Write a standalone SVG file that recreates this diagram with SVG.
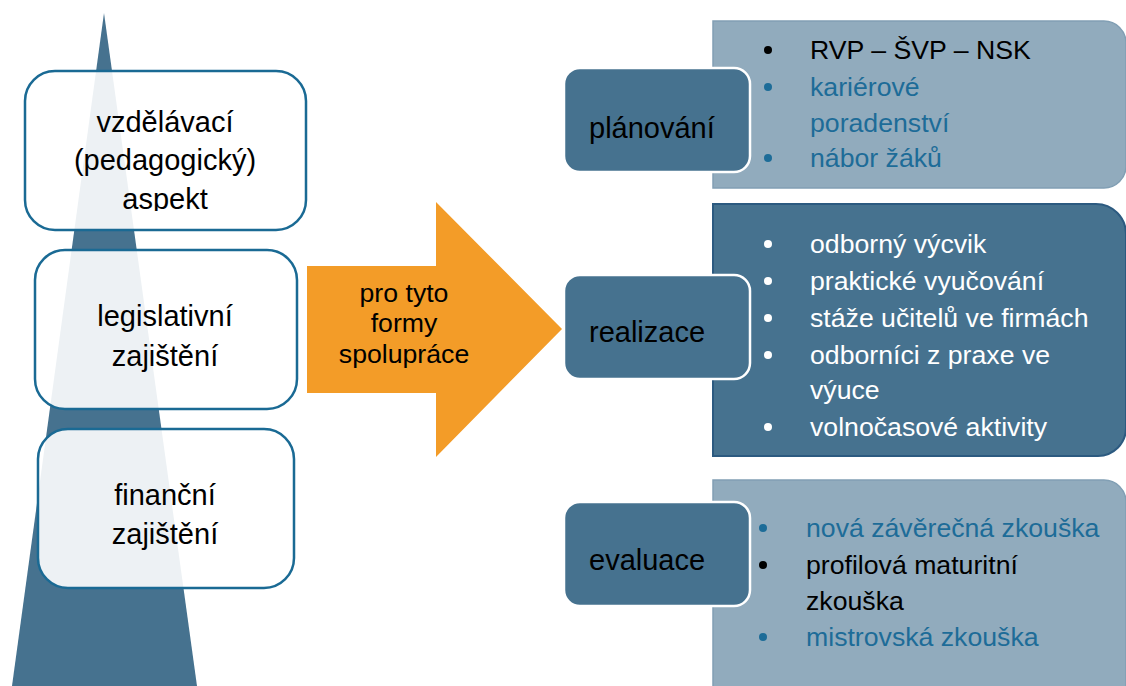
<svg xmlns="http://www.w3.org/2000/svg" width="1126" height="686" viewBox="0 0 1126 686">
<style>
text{font-family:"Liberation Sans",Arial,sans-serif}
.lbox{fill:#ffffff;fill-opacity:0.9;stroke:#1a6a94;stroke-width:2.5}
.lt{font-size:29px;fill:#000;text-anchor:middle}
.step{fill:#46728f;stroke:#ffffff;stroke-width:2.5}
.st{font-size:29px;fill:#000}
.light{fill:#91abbd;stroke:#819fb4;stroke-width:1.5}
.dark{fill:#46728f;stroke:#2c5a80;stroke-width:2}
.it{font-size:26.67px}
.blk{fill:#000}
.teal{fill:#1d6c98}
.wht{fill:#ffffff}
.at{font-size:26.67px;fill:#000;text-anchor:middle}
</style>
<defs>
<clipPath id="c1"><rect x="25" y="71" width="281" height="140"/></clipPath>
</defs>
<polygon id="pyramid" points="104,13 197,686 12,686" fill="#46728f"/>
<g id="aspect-edu">
<rect class="lbox" x="25" y="71" width="281" height="159" rx="30"/>
<g clip-path="url(#c1)">
<text class="lt" x="165" y="132">vzdělávací</text>
<text class="lt" x="165" y="170">(pedagogický)</text>
<text class="lt" x="165" y="209">aspekt</text>
</g>
</g>
<g id="aspect-leg">
<rect class="lbox" x="35" y="250" width="262" height="159" rx="30"/>
<text class="lt" x="165" y="326">legislativní</text>
<text class="lt" x="165" y="366">zajištění</text>
</g>
<g id="aspect-fin">
<rect class="lbox" x="38" y="429" width="256" height="159" rx="30"/>
<text class="lt" x="165" y="505">finanční</text>
<text class="lt" x="165" y="544">zajištění</text>
</g>
<g id="connectors">
<polygon id="arrow" points="307,266 436,266 436,202 562,329 436,457 436,393 307,393" fill="#f39c28"/>
<text class="at" x="404" y="302">pro tyto</text>
<text class="at" x="404" y="332">formy</text>
<text class="at" x="404" y="363">spolupráce</text>
</g>
<g id="panel-plan">
<path class="light" d="M713,21 H1104 A22,22 0 0 1 1126,43 V166 A22,22 0 0 1 1104,188 H713 Z"/>
<circle class="blk" cx="768" cy="50" r="4"/>
<text class="it blk" x="810" y="59">RVP – ŠVP – NSK</text>
<circle class="teal" cx="768" cy="87" r="4"/>
<text class="it teal" x="810" y="96">kariérové</text>
<text class="it teal" x="810" y="132">poradenství</text>
<circle class="teal" cx="768" cy="158" r="4"/>
<text class="it teal" x="810" y="167">nábor žáků</text>
</g>
<g id="panel-real">
<path class="dark" d="M713,204 H1096 A30,30 0 0 1 1126,234 V428 A28,28 0 0 1 1098,456 H713 Z"/>
<circle class="wht" cx="768" cy="244" r="4"/>
<text class="it wht" x="810" y="253">odborný výcvik</text>
<circle class="wht" cx="768" cy="281" r="4"/>
<text class="it wht" x="810" y="290">praktické vyučování</text>
<circle class="wht" cx="768" cy="318" r="4"/>
<text class="it wht" x="810" y="327">stáže učitelů ve firmách</text>
<circle class="wht" cx="768" cy="355" r="4"/>
<text class="it wht" x="810" y="364">odborníci z praxe ve</text>
<text class="it wht" x="810" y="399">výuce</text>
<circle class="wht" cx="768" cy="427" r="4"/>
<text class="it wht" x="810" y="436">volnočasové aktivity</text>
</g>
<g id="panel-eval">
<path class="light" d="M713,480 H1104 A22,22 0 0 1 1126,502 V690 H713 Z"/>
<circle class="teal" cx="763" cy="528" r="4"/>
<text class="it teal" x="806" y="537">nová závěrečná zkouška</text>
<circle class="blk" cx="763" cy="565" r="4"/>
<text class="it blk" x="806" y="574">profilová maturitní</text>
<text class="it blk" x="806" y="610">zkouška</text>
<circle class="teal" cx="763" cy="637" r="4"/>
<text class="it teal" x="806" y="646">mistrovská zkouška</text>
</g>
<g id="step-plan">
<rect class="step" x="564" y="68" width="186" height="104" rx="16"/>
<text class="st" x="589" y="138">plánování</text>
</g>
<g id="step-real">
<rect class="step" x="564" y="275" width="186" height="104" rx="16"/>
<text class="st" x="589" y="342">realizace</text>
</g>
<g id="step-eval">
<rect class="step" x="564" y="502" width="186" height="104" rx="16"/>
<text class="st" x="589" y="570">evaluace</text>
</g>
</svg>
